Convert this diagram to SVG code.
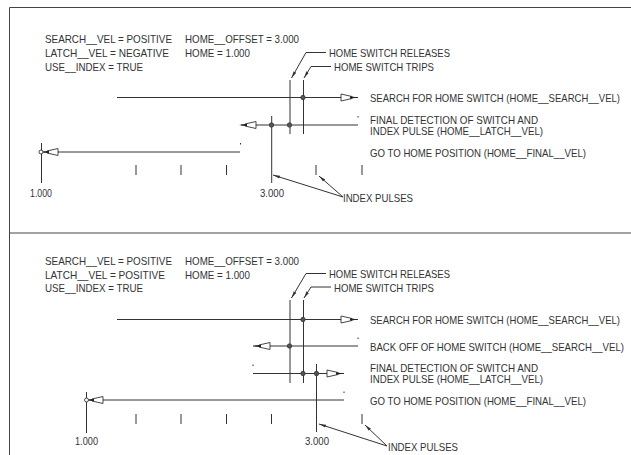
<svg xmlns="http://www.w3.org/2000/svg" width="631" height="455" viewBox="0 0 631 455">
<style>
text{font-family:"Liberation Sans",Arial,sans-serif;font-size:11px;fill:#333}
line,polyline{stroke:#333;stroke-width:1;fill:none}
.f{stroke:#444;stroke-width:1;fill:none}
.d{fill:#555;stroke:#333;stroke-width:.8}
.h{fill:#fff;stroke:#333;stroke-width:.9}
.t{fill:#222;stroke:none}
</style>
<defs>
<marker id="a" markerWidth="8" markerHeight="6" refX="7" refY="3" orient="auto" markerUnits="userSpaceOnUse"><path d="M0,1.5L7,3L0,4.5Z" fill="#333"/></marker>
<g id="r"><path class="h" d="M0,-3.5L0,3.5L11,1L11,-1Z"/><path class="t" d="M9,-1.3L17,0L9,1.3Z"/></g>
<g id="l"><path class="h" d="M0,-3.5L0,3.5L-11,1L-11,-1Z"/><path class="t" d="M-9,-1.3L-17,0L-9,1.3Z"/></g>
</defs>
<g id="frame"><path class="f" d="M9.5,455V7.5H631M9.5,233H631"/></g>
<g id="connectors">
<line x1="117" y1="97.5" x2="358" y2="97.5"/>
<line x1="290" y1="80" x2="290" y2="134"/><line x1="303.5" y1="80" x2="303.5" y2="134"/>
<line x1="241" y1="125" x2="358" y2="125"/>
<line x1="271.7" y1="116" x2="271.7" y2="183"/>
<line x1="41" y1="152" x2="240" y2="152"/>
<line x1="41.5" y1="143" x2="41.5" y2="183"/>
<line x1="136" y1="165" x2="136" y2="175"/><line x1="181" y1="165" x2="181" y2="175"/><line x1="226.500" y1="165" x2="226.500" y2="175"/><line x1="316" y1="165" x2="316" y2="175"/><line x1="362" y1="165" x2="362" y2="175"/>
<line x1="358" y1="116" x2="358" y2="117.500"/><line x1="240.500" y1="143" x2="240.500" y2="144.500"/>
<polyline points="326,52.500 306,52.500 291.500,78" marker-end="url(#a)"/>
<polyline points="331,66.500 311,66.500 304,78" marker-end="url(#a)"/>
<line x1="343" y1="197" x2="273" y2="175" marker-end="url(#a)"/>
<line x1="343" y1="197" x2="319" y2="176" marker-end="url(#a)"/>
<use href="#r" x="341" y="97.500"/><use href="#l" x="256" y="125"/><use href="#l" x="58" y="152"/>
<circle class="d" cx="303" cy="97.500" r="2.200"/><circle class="d" cx="271.500" cy="125" r="2.200"/><circle class="d" cx="289.500" cy="125" r="2.200"/><circle class="h" cx="41" cy="152" r="2"/>

<line x1="117" y1="319.500" x2="358" y2="319.500"/>
<line x1="290" y1="300" x2="290" y2="383"/><line x1="303.500" y1="300" x2="303.500" y2="383"/>
<line x1="253" y1="346" x2="358" y2="346"/>
<line x1="253" y1="373.500" x2="344" y2="373.500"/>
<line x1="316.500" y1="364" x2="316.500" y2="432"/>
<line x1="86" y1="400" x2="344" y2="400"/>
<line x1="86.500" y1="392" x2="86.500" y2="433"/>
<line x1="136" y1="414" x2="136" y2="424"/><line x1="181" y1="414" x2="181" y2="424"/><line x1="226.500" y1="414" x2="226.500" y2="424"/><line x1="271.500" y1="414" x2="271.500" y2="424"/><line x1="362" y1="414" x2="362" y2="424"/>
<line x1="358" y1="337.500" x2="358" y2="339"/><line x1="253" y1="364.500" x2="253" y2="366"/><line x1="344" y1="391.500" x2="344" y2="393"/>
<polyline points="326,273.500 306,273.500 291.500,298" marker-end="url(#a)"/>
<polyline points="331,287 311,287 304,298" marker-end="url(#a)"/>
<line x1="387" y1="446" x2="319" y2="424" marker-end="url(#a)"/>
<line x1="387" y1="446" x2="365" y2="425" marker-end="url(#a)"/>
<use href="#r" x="341" y="319.500"/><use href="#l" x="270" y="346"/><use href="#r" x="327" y="373.500"/><use href="#l" x="103" y="400"/>
<circle class="d" cx="303" cy="319.500" r="2.200"/><circle class="d" cx="289.500" cy="346" r="2.200"/><circle class="d" cx="303" cy="373.500" r="2.200"/><circle class="d" cx="316.500" cy="373.500" r="2.200"/><circle class="h" cx="86.500" cy="400" r="2"/>
</g>
<g id="text-top">
<text x="45" y="43" textLength="127" lengthAdjust="spacingAndGlyphs">SEARCH__VEL = POSITIVE</text>
<text x="185" y="43" textLength="114" lengthAdjust="spacingAndGlyphs">HOME__OFFSET = 3.000</text>
<text x="45" y="57" textLength="124" lengthAdjust="spacingAndGlyphs">LATCH__VEL = NEGATIVE</text>
<text x="185" y="57" textLength="65" lengthAdjust="spacingAndGlyphs">HOME = 1.000</text>
<text x="45" y="71" textLength="98" lengthAdjust="spacingAndGlyphs">USE__INDEX = TRUE</text>
<text x="329" y="57" textLength="121" lengthAdjust="spacingAndGlyphs">HOME SWITCH RELEASES</text>
<text x="334" y="71" textLength="100" lengthAdjust="spacingAndGlyphs">HOME SWITCH TRIPS</text>
<text x="370" y="102" textLength="250" lengthAdjust="spacingAndGlyphs">SEARCH FOR HOME SWITCH (HOME__SEARCH__VEL)</text>
<text x="370" y="124" textLength="168" lengthAdjust="spacingAndGlyphs">FINAL DETECTION OF SWITCH AND</text>
<text x="370" y="135" textLength="173" lengthAdjust="spacingAndGlyphs">INDEX PULSE (HOME__LATCH__VEL)</text>
<text x="370" y="157" textLength="216" lengthAdjust="spacingAndGlyphs">GO TO HOME POSITION (HOME__FINAL__VEL)</text>
<text x="30" y="197" textLength="22" lengthAdjust="spacingAndGlyphs">1.000</text>
<text x="260" y="197" textLength="24" lengthAdjust="spacingAndGlyphs">3.000</text>
<text x="343" y="202" textLength="70" lengthAdjust="spacingAndGlyphs">INDEX PULSES</text>
</g>
<g id="text-bottom">
<text x="45" y="265" textLength="127" lengthAdjust="spacingAndGlyphs">SEARCH__VEL = POSITIVE</text>
<text x="185" y="265" textLength="114" lengthAdjust="spacingAndGlyphs">HOME__OFFSET = 3.000</text>
<text x="45" y="279" textLength="120" lengthAdjust="spacingAndGlyphs">LATCH__VEL = POSITIVE</text>
<text x="185" y="279" textLength="65" lengthAdjust="spacingAndGlyphs">HOME = 1.000</text>
<text x="45" y="292" textLength="98" lengthAdjust="spacingAndGlyphs">USE__INDEX = TRUE</text>
<text x="329" y="278" textLength="121" lengthAdjust="spacingAndGlyphs">HOME SWITCH RELEASES</text>
<text x="334" y="292" textLength="100" lengthAdjust="spacingAndGlyphs">HOME SWITCH TRIPS</text>
<text x="370" y="324" textLength="250" lengthAdjust="spacingAndGlyphs">SEARCH FOR HOME SWITCH (HOME__SEARCH__VEL)</text>
<text x="370" y="351" textLength="254" lengthAdjust="spacingAndGlyphs">BACK OFF OF HOME SWITCH (HOME__SEARCH__VEL)</text>
<text x="370" y="372" textLength="168" lengthAdjust="spacingAndGlyphs">FINAL DETECTION OF SWITCH AND</text>
<text x="370" y="383" textLength="173" lengthAdjust="spacingAndGlyphs">INDEX PULSE (HOME__LATCH__VEL)</text>
<text x="370" y="405" textLength="216" lengthAdjust="spacingAndGlyphs">GO TO HOME POSITION (HOME__FINAL__VEL)</text>
<text x="75" y="445" textLength="23" lengthAdjust="spacingAndGlyphs">1.000</text>
<text x="305" y="445" textLength="24" lengthAdjust="spacingAndGlyphs">3.000</text>
<text x="388" y="451" textLength="70" lengthAdjust="spacingAndGlyphs">INDEX PULSES</text>
</g>
</svg>
